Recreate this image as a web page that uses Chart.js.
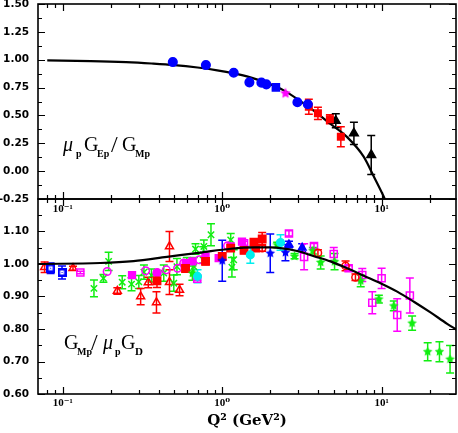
<!DOCTYPE html>
<html><head><meta charset="utf-8">
<script src="https://cdn.jsdelivr.net/npm/chart.js@4.4.0/dist/chart.umd.min.js"></script>
<style>
html,body{margin:0;padding:0;background:#fff;}
#wrap{position:relative;width:458px;height:433px;overflow:hidden;}
.pane{position:absolute;left:0;}
</style></head><body>
<div id="wrap">
<canvas id="cBot" class="pane" style="top:195px" width="458" height="238"></canvas>
<canvas id="cTop" class="pane" style="top:0px" width="458" height="220"></canvas>
</div>
<script>
// ---------- axis ticks ----------
const xTickVals = [0.08,0.09,0.1,0.2,0.3,0.4,0.5,0.6,0.7,0.8,0.9,1,2,3,4,5,6,7,8,9,10,20];
const xMajor = [0.1,1,10];
const xTickLabels = ['10⁻¹','10⁰','10¹'];
const topYMajor = [-0.25,0,0.25,0.5,0.75,1,1.25,1.5];
const topYMinor = [-0.125,0.125,0.375,0.625,0.875,1.125,1.375];
const botYMajor = [0.6,0.7,0.8,0.9,1.0,1.1,1.2];
const botYMinor = [0.65,0.75,0.85,0.95,1.05,1.15];

// ---------- curves ----------
const topCurveQ = [0.08,0.15,0.25,0.36,0.5,0.7,0.93,1.18,1.5,1.92,2.43,3.09,3.76,4.77,6.07,7.7,8.93,10.3,10.8];
const topCurveV = [0.994,0.988,0.978,0.966,0.952,0.93,0.905,0.878,0.842,0.79,0.725,0.628,0.54,0.423,0.305,0.13,-0.05,-0.23,-0.3];
const botCurveQ = [0.07,0.172,0.278,0.45,0.73,1.13,1.6,2.0,2.95,3.76,4.77,6.07,7.7,9.82,12.5,15.9,20.2,25.7,29.6];
const botCurveV = [1.000,1.003,1.009,1.022,1.035,1.047,1.051,1.051,1.040,1.024,1.008,0.987,0.964,0.941,0.915,0.884,0.851,0.816,0.797];

// ---------- top panel data [Q2, value, error] ----------
const topBlueCircles = [[0.49,0.979],[0.79,0.952],[1.18,0.883],[1.48,0.797],[1.76,0.794],[1.89,0.779],[2.96,0.618],[3.44,0.60]];
const topBlueSquares = [[2.17,0.752,0.02]];
const topMagentaStars = [[2.49,0.698]];
const topRedSquares = [[3.49,0.578,0.067],[3.98,0.519,0.055],[4.73,0.465,0.04],[5.54,0.309,0.09]];
const topBlackTriangles = [[5.15,0.452,0.063],[6.69,0.339,0.1],[8.59,0.145,0.175]];

// ---------- bottom panel data [Q2, value, error] ----------
const redTriangles = [[0.077,0.99,0.016],[0.116,0.987,0.006],[0.22,0.917,0.01],[0.308,0.90,0.025],[0.344,0.943,0.016],[0.387,0.882,0.033],[0.467,1.054,0.046],[0.467,0.944,0.038],[0.54,0.92,0.018]];
const blueDotSquares = [[0.084,0.987,0.016],[0.099,0.974,0.02]];
const magentaOpenSquares = [[0.129,0.974,0.004],[0.697,0.955,0.006],[1.37,1.064,0.006],[2.62,1.094,0.008],[3.26,1.022,0.04],[3.76,1.055,0.008],[5.0,1.031,0.02],[6.2,0.987,0.008],[7.55,0.966,0.02],[8.72,0.881,0.034],[9.98,0.956,0.031],[12.5,0.843,0.05],[15.0,0.903,0.054]];
const greenCrosses = [[0.157,0.925,0.026],[0.18,0.956,0.012],[0.194,1.008,0.028],[0.236,0.944,0.02],[0.27,0.938,0.02],[0.30,0.945,0.02],[0.323,0.975,0.022],[0.36,0.965,0.02],[0.43,0.972,0.025],[0.497,0.941,0.025],[0.52,0.992,0.025],[0.6,1.0,0.02],[0.664,0.992,0.028],[0.68,1.046,0.016],[0.76,1.028,0.025],[0.767,1.054,0.02],[0.85,1.09,0.034],[1.13,1.074,0.02],[1.15,0.99,0.03],[1.18,1.013,0.031]];
const magentaOpenCircles = [[0.19,0.977],[0.331,0.979],[0.391,0.974],[0.446,0.982],[0.525,0.987],[0.574,1.003],[0.72,1.013],[1.08,1.056]];
const magentaFilledSquares = [[0.272,0.966],[0.59,1.003],[0.65,1.008],[0.786,1.023],[0.95,1.018],[1.13,1.054],[1.33,1.069]];
const magentaFilledCircles = [[0.39,0.972,0.008]];
const redFilledSquares = [[0.39,0.948,0.02],[0.589,0.986,0.01],[0.786,1.008,0.01],[1.0,1.023,0.01],[1.13,1.049,0.01],[1.37,1.042,0.01],[1.58,1.067,0.01],[1.62,1.049,0.01],[1.78,1.077,0.02]];
const cyanCircles = [[0.7,0.962,0.02],[1.5,1.028,0.026],[2.32,1.066,0.024]];
const blueStars = [[1.0,1.01,0.063],[2.0,1.033,0.059],[2.49,1.035,0.025]];
const blueTriangles = [[2.62,1.06,0.01],[3.17,1.05,0.012]];
const greenStars = [[0.65,0.972,0.022],[2.21,1.059,0.008],[2.84,1.024,0.008],[3.7,1.041,0.01],[4.14,1.005,0.02],[5.06,1.007,0.025],[7.38,0.948,0.018],[9.59,0.892,0.012],[11.9,0.871,0.015],[15.5,0.818,0.022],[19.4,0.73,0.028],[23.0,0.73,0.031],[26.8,0.707,0.042]];
const redOpenCircles = [[1.78,1.049,0.01],[3.98,1.034,0.01],[5.93,0.994,0.015],[6.84,0.959,0.01]];

// ---------- colours ----------
const RED='#ff0000', BLUE='#0000ff', MAG='#ff00ff', GREEN='#11ee11', CYAN='#00eeee', BLACK='#000000';

// ---------- marker images ----------
function starCanvas(color,size){
  const c=document.createElement('canvas'); c.width=c.height=size;
  const g=c.getContext('2d'); const r=size/2, ri=r*0.45;
  g.beginPath();
  for(let k=0;k<10;k++){const a=-Math.PI/2+k*Math.PI/5; const rr=k%2?ri:r-0.5; g.lineTo(r+rr*Math.cos(a), r+rr*Math.sin(a));}
  g.closePath(); g.fillStyle=color; g.fill(); return c;
}
function dotSquare(color){
  const c=document.createElement('canvas'); c.width=c.height=9;
  const g=c.getContext('2d'); g.fillStyle=color; g.fillRect(0,0,9,9);
  g.fillStyle='#ffffff'; g.fillRect(2.5,2.5,4,4); g.fillStyle=color; g.fillRect(4,4,1,1); return c;
}

function pts(arr){return arr.map(p=>({x:p[0],y:p[1]}));}
function errs(arr){return arr.map(p=>p[2]||0);}
function series(arr,style,color,fill,radius,extra){
  return Object.assign({type:'scatter',data:pts(arr),errs:errs(arr),pointStyle:style,borderColor:color,
    backgroundColor:fill?color:'rgba(255,255,255,0)',pointRadius:radius,pointBorderWidth:1.5,borderWidth:1.5},extra||{});
}
function curve(q,v){return {type:'line',data:q.map((x,i)=>({x:x,y:v[i]})),borderColor:BLACK,borderWidth:2.2,pointRadius:0,fill:false,cubicInterpolationMode:'monotone'};}

// ---------- plugins ----------
const errorBars={id:'errorBars',beforeDatasetsDraw(chart){
  const ctx=chart.ctx,xs=chart.scales.x,ys=chart.scales.y,a=chart.chartArea;
  ctx.save(); ctx.beginPath(); ctx.rect(a.left,a.top,a.right-a.left,a.bottom-a.top); ctx.clip();
  chart.data.datasets.forEach(ds=>{
    if(!ds.errs) return;
    ctx.strokeStyle=ds.borderColor; ctx.lineWidth=1.5;
    ds.data.forEach((p,i)=>{
      const e=ds.errs[i]; if(!e) return;
      const px=xs.getPixelForValue(p.x), y1=ys.getPixelForValue(p.y-e), y2=ys.getPixelForValue(p.y+e);
      ctx.beginPath(); ctx.moveTo(px,y1); ctx.lineTo(px,y2);
      ctx.moveTo(px-4,y1); ctx.lineTo(px+4,y1); ctx.moveTo(px-4,y2); ctx.lineTo(px+4,y2); ctx.stroke();
    });
  });
  ctx.restore();
}};
const frameTicks={id:'frameTicks',afterDraw(chart,args,opts){
  const ctx=chart.ctx,a=chart.chartArea,xs=chart.scales.x,ys=chart.scales.y;
  ctx.save(); ctx.strokeStyle='#000';
  ctx.lineWidth=1.2; ctx.beginPath();
  xTickVals.forEach(v=>{const px=Math.round(xs.getPixelForValue(v))+0.5; const L=xMajor.includes(v)?7:4;
    ctx.moveTo(px,a.bottom); ctx.lineTo(px,a.bottom-L); ctx.moveTo(px,a.top); ctx.lineTo(px,a.top+L);});
  opts.yMajor.forEach(v=>{const py=Math.round(ys.getPixelForValue(v))+0.5;
    ctx.moveTo(a.left,py); ctx.lineTo(a.left+7,py); ctx.moveTo(a.right,py); ctx.lineTo(a.right-7,py);});
  opts.yMinor.forEach(v=>{const py=Math.round(ys.getPixelForValue(v))+0.5;
    ctx.moveTo(a.left,py); ctx.lineTo(a.left+4,py); ctx.moveTo(a.right,py); ctx.lineTo(a.right-4,py);});
  ctx.stroke();
  ctx.lineWidth=1.6; ctx.strokeRect(a.left,a.top,a.right-a.left,a.bottom-a.top);
  ctx.restore();
}};
const panelLabel={id:'panelLabel',afterDraw(chart,args,opts){
  const ctx=chart.ctx; ctx.save(); ctx.fillStyle='#000'; ctx.textAlign='left'; ctx.textBaseline='alphabetic';
  (opts.runs||[]).forEach(r=>{ctx.font=r.f; ctx.fillText(r.t,r.x,r.y);});
  ctx.restore();
}};

const SER='"Liberation Serif", "DejaVu Serif", serif';
const MAIN='20px '+SER, ITAL='italic 20px '+SER, SUB='bold 10px '+SER, SLASH='24px '+SER;

function xScale(titleOn){
  return {type:'logarithmic',min:0.07,max:29.2,
    afterBuildTicks:s=>{s.ticks=xTickVals.map(v=>({value:v}));},
    afterFit:s=>{s.height=titleOn?39:21;},
    grid:{display:false,drawTicks:false},border:{display:false},
    ticks:{autoSkip:false,maxRotation:0,padding:titleOn?3:4,color:'#000',font:{family:SER,size:11,weight:'bold'},
      callback:v=>{const i=xMajor.findIndex(m=>Math.abs(m-v)<1e-9); return i>=0?xTickLabels[i]:'';}},
    title:titleOn?{display:true,text:'Q² (GeV²)',color:'#000',font:{family:'"DejaVu Serif", serif',size:15,weight:'bold'},padding:{top:0,bottom:3}}:{display:false}
  };
}
function yScale(min,max,majors,hideTop){
  return {type:'linear',min:min,max:max,
    afterBuildTicks:s=>{s.ticks=majors.map(v=>({value:v}));},
    afterFit:s=>{s.width=38;},
    grid:{display:true,drawOnChartArea:false,drawTicks:true,tickLength:9,color:'rgba(0,0,0,0)'},border:{display:false},
    ticks:{padding:0,color:'#000',font:{family:'"DejaVu Sans", sans-serif',size:10.5,weight:'bold',lineHeight:0.7},
      callback:v=>(hideTop&&Math.abs(v-max)<1e-9)?'':v.toFixed(2)}
  };
}
const common={responsive:false,animation:false,devicePixelRatio:1,events:[]};

// ---------- top chart ----------
new Chart(document.getElementById('cTop'),{
  type:'scatter',
  data:{datasets:[
    series(topBlueCircles,'circle',BLUE,true,4.3),
    series(topBlueSquares,'rect',BLUE,true,5),
    series(topMagentaStars,starCanvas(MAG,12),MAG,true,6),
    series(topRedSquares,'rect',RED,true,4.6),
    series(topBlackTriangles,'triangle',BLACK,true,5),
    curve(topCurveQ,topCurveV)
  ]},
  options:Object.assign({},common,{
    layout:{autoPadding:false,padding:{top:4,right:2,left:0,bottom:0}},
    scales:{x:xScale(false),y:yScale(-0.25,1.5,topYMajor,false)},
    plugins:{legend:{display:false},tooltip:{enabled:false},
      frameTicks:{yMajor:topYMajor,yMinor:topYMinor},
      panelLabel:{runs:[
        {t:'μ',f:ITAL,x:63,y:151},{t:'p',f:SUB,x:76,y:157},
        {t:'G',f:MAIN,x:84,y:151},{t:'Ep',f:SUB,x:97,y:157},
        {t:'/',f:SLASH,x:111,y:152},
        {t:'G',f:MAIN,x:122,y:151},{t:'Mp',f:SUB,x:135,y:157}
      ]}}
  }),
  plugins:[errorBars,frameTicks,panelLabel]
});

// ---------- bottom chart ----------
new Chart(document.getElementById('cBot'),{
  type:'scatter',
  data:{datasets:[
    curve(botCurveQ,botCurveV),
    series(blueStars,starCanvas(BLUE,11),BLUE,true,6),
    series(blueTriangles,'triangle',BLUE,true,4.5),
    series(cyanCircles,'circle',CYAN,true,3.8),
    series(redOpenCircles,'circle',RED,false,3.6),
    series(greenStars,starCanvas(GREEN,11),GREEN,true,6),
    series(redFilledSquares,'rect',RED,true,5.2),
    series(magentaFilledCircles,'circle',MAG,true,3.8),
    series(magentaFilledSquares,'rect',MAG,true,4.8),
    series(magentaOpenCircles,'circle',MAG,false,3.8),
    series(greenCrosses,'crossRot',GREEN,false,4.5),
    series(magentaOpenSquares,'rect',MAG,false,5),
    series(blueDotSquares,dotSquare(BLUE),BLUE,true,5),
    series(redTriangles,'triangle',RED,false,4.6)
  ]},
  options:Object.assign({},common,{
    layout:{autoPadding:false,padding:{top:4,right:2,left:0,bottom:0}},
    scales:{x:xScale(true),y:yScale(0.6,1.2,botYMajor,true)},
    plugins:{legend:{display:false},tooltip:{enabled:false},
      frameTicks:{yMajor:botYMajor,yMinor:botYMinor},
      panelLabel:{runs:[
        {t:'G',f:MAIN,x:64,y:154},{t:'Mp',f:SUB,x:77,y:160},
        {t:'/',f:SLASH,x:91,y:155},
        {t:'μ',f:ITAL,x:103,y:154},{t:'p',f:SUB,x:115,y:160},
        {t:'G',f:MAIN,x:121,y:154},{t:'D',f:'bold 11px '+SER,x:135,y:160}
      ]}}
  }),
  plugins:[errorBars,frameTicks,panelLabel]
});
</script>
</body></html>
